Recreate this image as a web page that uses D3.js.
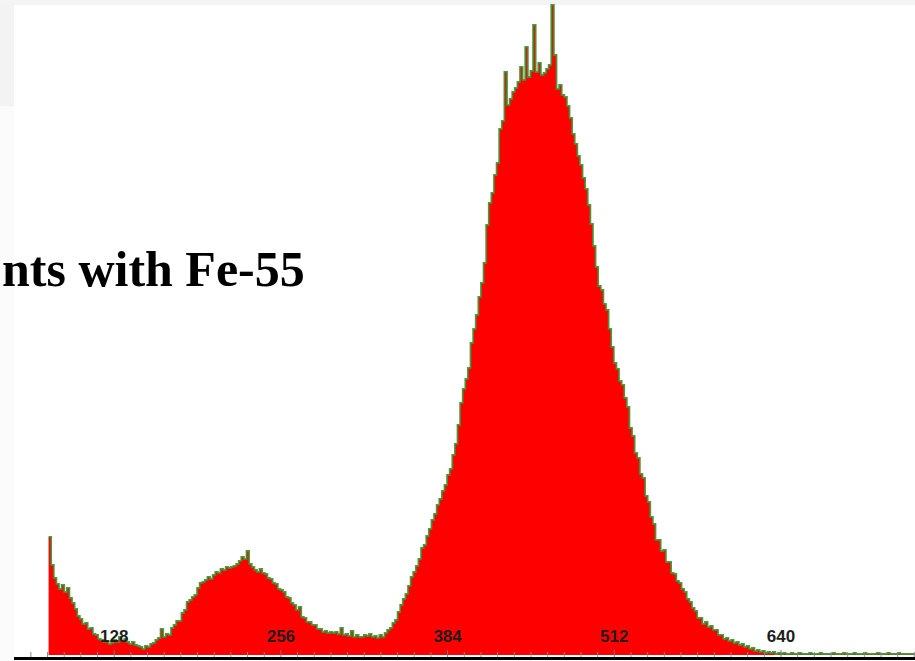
<!DOCTYPE html>
<html>
<head>
<meta charset="utf-8">
<script src="https://cdn.jsdelivr.net/npm/d3@7"></script>
<style>
  html, body { margin: 0; padding: 0; background: #fff; overflow: hidden; }
  svg { display: block; }
</style>
</head>
<body>
<svg id="chart" width="915" height="661"></svg>
<script>
// ---- data ----
const titleText = "nts with Fe-55";
const majorTicks = [128, 256, 384, 512, 640];
const minorStep = 12.8;
const startChannel = 78;
const binWidth = 2;
const counts = [
  118, 90, 77, 71, 66, 70, 63, 67, 57, 52,
  46, 39, 36, 31, 32, 26, 27, 21, 20, 16,
  15, 13, 14, 11, 12, 15, 13, 18, 14, 16,
  13, 11, 13, 10, 9, 8, 6, 9, 8, 11,
  12, 15, 17, 26, 18, 21, 20, 27, 30, 34,
  34, 42, 45, 53, 55, 58, 60, 67, 72, 73,
  75, 78, 76, 80, 83, 82, 86, 85, 88, 87,
  88, 89, 91, 94, 98, 96, 104, 91, 88, 85,
  83, 86, 82, 81, 77, 76, 72, 71, 66, 65,
  63, 58, 57, 52, 50, 45, 48, 38, 37, 33,
  33, 30, 30, 26, 26, 23, 24, 22, 23, 22,
  23, 21, 27, 20, 21, 19, 24, 18, 20, 18,
  18, 20, 19, 21, 18, 19, 17, 20, 18, 22,
  25, 27, 32, 35, 43, 50, 56, 61, 69, 78,
  83, 89, 96, 107, 110, 119, 126, 135, 141, 150,
  156, 164, 170, 180, 186, 200, 211, 230, 252, 266,
  276, 287, 312, 326, 340, 358, 372, 392, 430, 452,
  462, 480, 492, 526, 534, 583, 550, 556, 563, 567,
  573, 588, 575, 608, 578, 584, 630, 583, 592, 580,
  582, 586, 590, 650, 600, 566, 570, 560, 558, 549,
  537, 521, 511, 499, 490, 477, 466, 450, 431, 409,
  388, 369, 365, 351, 345, 326, 308, 292, 286, 274,
  270, 257, 248, 227, 219, 202, 197, 181, 177, 159,
  153, 138, 131, 115, 115, 104, 105, 93, 93, 82,
  81, 74, 72, 66, 63, 56, 53, 47, 44, 37,
  37, 31, 33, 28, 29, 25, 25, 20, 20, 16,
  17, 14, 15, 12, 13, 10, 11, 8, 9, 6,
  7, 4, 5, 3, 4, 2, 3, 2, 3, 1,
  2, 1, 2, 1, 1, 2, 1, 1, 2, 1,
  1, 1, 2, 1, 1, 1, 2, 1, 1, 1,
  1, 2, 1, 1, 1, 2, 1, 1, 1, 2,
  1, 1, 1, 2, 1, 1, 1, 1, 2, 1,
  1, 1, 2, 1, 1, 1, 2, 1, 1, 1,
  1, 1, 1
];

// ---- layout ----
const W = 915, H = 661;
const svg = d3.select("#chart");

const defs = svg.append("defs");
defs.append("filter").attr("id", "soft")
  .append("feGaussianBlur").attr("stdDeviation", 0.35);

// background panels
svg.append("rect").attr("x", 0).attr("y", 0).attr("width", W).attr("height", H).attr("fill", "#ffffff");
svg.append("rect").attr("x", 0).attr("y", 0).attr("width", 14).attr("height", 106).attr("fill", "#f3f3f3");
svg.append("rect").attr("x", 0).attr("y", 106).attr("width", 14).attr("height", 555).attr("fill", "#fbfbfb");
svg.append("rect").attr("x", 0).attr("y", 0).attr("width", W).attr("height", 5).attr("fill", "#f4f4f4");

const x = d3.scaleLinear().domain([128, 640]).range([113.7, 780.5]);
const y = d3.scaleLinear().domain([0, 650]).range([655, 5]);

const bins = counts.map((v, i) => ({ ch: startChannel + i * binWidth, v }));
const last = bins[bins.length - 1];
const stepData = bins.concat([{ ch: last.ch + binWidth, v: last.v }]);

const area = d3.area()
  .x(d => x(d.ch))
  .y0(y(0))
  .y1(d => y(d.v))
  .curve(d3.curveStepAfter);

const line = d3.line()
  .x(d => x(d.ch))
  .y(d => y(d.v))
  .curve(d3.curveStepAfter);

const plot = svg.append("g").attr("filter", "url(#soft)");

plot.append("path")
  .datum(stepData)
  .attr("d", area)
  .attr("fill", "#ff0000");

plot.append("path")
  .datum(stepData)
  .attr("d", line)
  .attr("fill", "none")
  .attr("stroke", "#3f8f30")
  .attr("stroke-width", 1.8)
  .attr("stroke-opacity", 0.9);

// axis
const minorTicks = d3.range(64, 750, minorStep).filter(t => !majorTicks.some(m => Math.abs(m - t) < 0.01));
const axisY = 657;

svg.append("g")
  .attr("transform", `translate(0,${axisY})`)
  .call(d3.axisTop(x).tickValues(minorTicks).tickSize(5).tickFormat(""))
  .call(g => g.select(".domain").remove())
  .call(g => g.selectAll(".tick line").attr("stroke", "#8a8a8a").attr("stroke-width", 1));

svg.append("g")
  .attr("transform", `translate(0,${axisY})`)
  .call(d3.axisTop(x).tickValues(majorTicks).tickSize(7).tickPadding(8).tickFormat(d3.format("d")))
  .call(g => g.select(".domain").remove())
  .call(g => g.selectAll(".tick line").attr("stroke", "#777").attr("stroke-width", 1))
  .call(g => g.selectAll(".tick text")
    .attr("fill", "#1e1e1e")
    .attr("font-family", "'Liberation Sans', Arial, sans-serif")
    .attr("font-weight", "bold")
    .attr("font-size", 17));

svg.append("line")
  .attr("x1", 14).attr("x2", W)
  .attr("y1", axisY + 1.5).attr("y2", axisY + 1.5)
  .attr("stroke", "#000").attr("stroke-width", 3);

// title fragment
svg.append("text")
  .attr("x", 2).attr("y", 286)
  .attr("text-anchor", "start")
  .attr("font-family", "'Liberation Serif', 'Times New Roman', serif")
  .attr("font-weight", "bold")
  .attr("font-size", 50)
  .attr("fill", "#000")
  .text(titleText);
</script>
</body>
</html>
